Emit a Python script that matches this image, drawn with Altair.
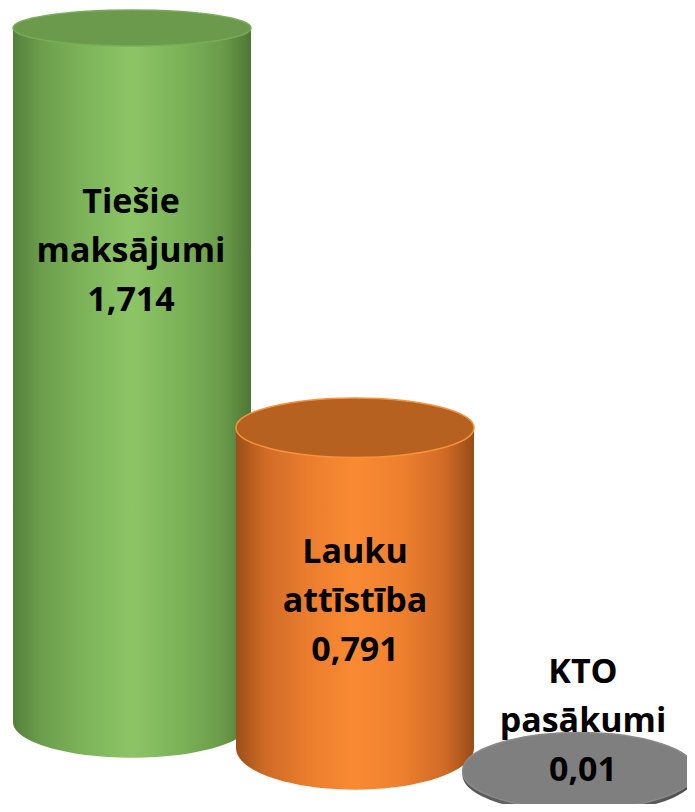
import altair as alt
import pandas as pd

# ---- data ----
categories = ["Tiešie maksājumi", "Lauku attīstība", "KTO pasākumi"]
values = [1.714, 0.791, 0.01]

labels = []
for c, v in zip(categories, values):
    first, rest = c.split(" ", 1)
    labels.append(first + "\n" + rest + "\n" + str(v).replace(".", ","))

df = pd.DataFrame({"cat": categories, "value": values, "label": labels, "zero": [0.0] * 3})

# ---- styles ----
def grad(stops):
    return {"gradient": "linear", "x1": 0, "x2": 1, "y1": 0, "y2": 0,
            "stops": [{"offset": o, "color": c} for o, c in stops]}

def ellipse(r):
    return f"M-1,0A1,{r} 0 1,0 1,0A1,{r} 0 1,0 -1,0Z"

styles = [
    dict(  # green
        xoff=1, yoff=0, w=238,
        side=grad([(0, "#557f3c"), (0.12, "#6c9e4b"), (0.3, "#7db45a"), (0.5, "#8cc466"),
                   (0.7, "#7cb359"), (0.88, "#6a9b49"), (1, "#4e7636")]),
        top="#6b9a4c", rim="#7aad58", rtop=0.151, rbot=0.30,
        tdx=0, tdy=185,
    ),
    dict(  # orange
        xoff=0, yoff=26, w=238,
        side=grad([(0, "#9c4f1a"), (0.12, "#cf6a26"), (0.3, "#ea7d2e"), (0.5, "#fa8a32"),
                   (0.7, "#ee802f"), (0.88, "#cf6a26"), (1, "#984c18")]),
        top="#b6611f", rim="#f7923c", rtop=0.25, rbot=0.35,
        tdx=0, tdy=161,
    ),
    dict(  # gray
        xoff=0, yoff=53, w=233,
        side=grad([(0, "#555555"), (0.3, "#6a6a6a"), (0.5, "#707070"), (0.7, "#666666"), (1, "#4a4a4a")]),
        top="#7f7f7f", rim="#8a8a8a", rtop=0.33, rbot=0.33,
        tdx=4, tdy=-35,
    ),
]

xscale = alt.Scale(type="point", domain=categories, range=[123, 571], padding=0)
yscale = alt.Scale(domain=[0, max(values)], range=[714, 20], nice=False, zero=True)

X = alt.X("cat:N", scale=xscale, axis=None)

layers = []
for cat, st in zip(categories, styles):
    base = alt.Chart(df).transform_filter(alt.datum.cat == cat)
    size = st["w"] ** 2
    bottom = base.mark_point(
        shape=ellipse(st["rbot"]), size=size, filled=True, fill=st["side"], opacity=1,
        strokeWidth=0, xOffset=st["xoff"], yOffset=st["yoff"],
    ).encode(x=X, y=alt.Y("zero:Q", scale=yscale, axis=None))
    body = base.mark_bar(
        fill=st["side"], size=st["w"], opacity=1, strokeWidth=0,
        xOffset=st["xoff"], yOffset=st["yoff"], y2Offset=st["yoff"],
    ).encode(x=X, y=alt.Y("value:Q", scale=yscale, axis=None), y2="zero:Q")
    top = base.mark_point(
        shape=ellipse(st["rtop"]), size=size, filled=True, fill=st["top"], opacity=1,
        stroke=st["rim"], strokeWidth=1.5, strokeOpacity=1,
        xOffset=st["xoff"], yOffset=st["yoff"],
    ).encode(x=X, y=alt.Y("value:Q", scale=yscale, axis=None))
    layers += [bottom, body, top]

for cat, st in zip(categories, styles):
    base = alt.Chart(df).transform_filter(alt.datum.cat == cat)
    text = base.mark_text(
        font="Open Sans", fontWeight="bold", fontSize=34, lineHeight=49,
        lineBreak="\n", align="center", baseline="alphabetic", color="#000000",
        dx=st["tdx"], dy=st["tdy"],
    ).encode(x=X, y=alt.Y("value:Q", scale=yscale, axis=None), text="label:N")
    layers.append(text)

chart = alt.layer(*layers).properties(
    width=679, height=796, padding=0, background="#ffffff",
    autosize=alt.AutoSizeParams(type="none"),
).configure_view(stroke=None)

chart.save("out.html", embed_options={"renderer": "svg", "actions": False})
